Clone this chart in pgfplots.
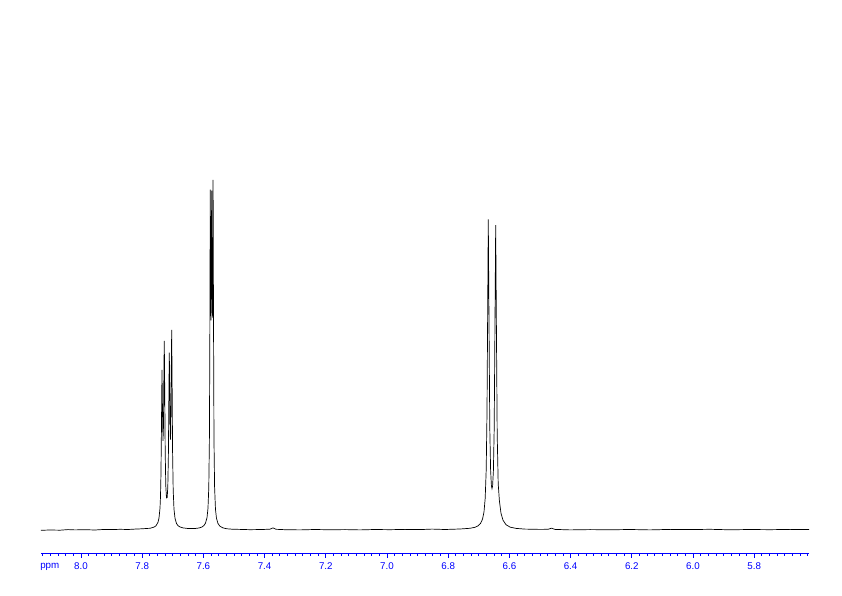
\documentclass[border=0pt]{standalone}
\usepackage{fontspec}
\setmainfont{Liberation Sans}
\usepackage{pgfplots}
\pgfplotsset{compat=1.18}
\begin{document}
\begin{tikzpicture}[x=1bp,y=1bp]
\path[use as bounding box] (0,0) rectangle (842,596);
\begin{axis}[
  at={(41bp,43bp)}, anchor=south west,
  scale only axis, width=768bp, height=553bp,
  xmin=5.6209, xmax=8.1307, ymin=-23.3, ymax=529.7,
  x dir=reverse,
  axis x line=bottom, axis y line=none,
  x axis line style={-, blue, line width=0.8pt},
  xtick={5.8,6.0,6.2,6.4,6.6,6.8,7.0,7.2,7.4,7.6,7.8,8.0},
  minor xtick={5.625,5.65,...,8.13},
  tick align=outside,
  major tick length=5bp, minor tick length=3bp,
  tick style={blue, line width=0.8pt},
  typeset ticklabels with strut,
  /pgf/number format/fixed, /pgf/number format/fixed zerofill,
  /pgf/number format/precision=1, /pgf/number format/assume math mode=true,
  xticklabel style={blue, font=\fontsize{9.8}{11}\selectfont},
  extra x ticks={8.102}, extra x tick labels={ppm},
  extra x tick style={major tick length=0pt, xticklabel style={yshift=-4bp}},
]
\addplot[black, line width=0.7pt, mark=none] coordinates {
(8.1307,-0.6)(8.1013,-0.3)(8.0686,-0.5)(8.0425,0.1)(8.0196,-0.2)(7.9869,0.0)(7.9542,-0.3)(7.9216,0.3)(7.8987,0.1)(7.8725,0.4)(7.8464,0.2)(7.8235,0.6)(7.8007,0.9)(7.7810,1.3)(7.7745,1.4)(7.7614,2.6)(7.7549,3.9)(7.7484,7.4)(7.7451,11.6)(7.7418,21.6)(7.7402,32.9)(7.7386,56.3)(7.7369,106.8)(7.7353,159.9)(7.7337,119.9)(7.7320,88.8)(7.7304,103.7)(7.7288,165.1)(7.7278,188.8)(7.7265,144.1)(7.7248,77.9)(7.7229,44.1)(7.7206,31.8)(7.7183,32.2)(7.7163,42.7)(7.7144,74.0)(7.7127,135.3)(7.7114,177.1)(7.7101,143.2)(7.7085,96.0)(7.7075,90.2)(7.7065,100.9)(7.7049,159.2)(7.7036,199.7)(7.7023,150.9)(7.7007,78.4)(7.6987,39.7)(7.6961,20.5)(7.6928,11.5)(7.6879,6.2)(7.6830,4.0)(7.6765,2.8)(7.6667,1.8)(7.6536,1.3)(7.6405,1.1)(7.6275,1.2)(7.6144,1.7)(7.6046,2.7)(7.5980,4.2)(7.5931,6.6)(7.5882,12.0)(7.5850,21.3)(7.5824,41.9)(7.5804,88.6)(7.5791,174.5)(7.5775,340.1)(7.5761,249.8)(7.5752,209.2)(7.5742,246.8)(7.5729,339.0)(7.5716,248.1)(7.5706,212.0)(7.5696,255.5)(7.5683,349.8)(7.5670,215.5)(7.5654,90.7)(7.5634,42.8)(7.5605,20.3)(7.5572,11.4)(7.5523,6.2)(7.5458,3.4)(7.5359,1.8)(7.5229,0.9)(7.5065,0.5)(7.4804,0.3)(7.4477,0.0)(7.4085,0.2)(7.3824,0.5)(7.3725,1.8)(7.3627,0.4)(7.3333,0.0)(7.2843,-0.2)(7.2353,0.2)(7.1863,-0.1)(7.1373,0.1)(7.0882,-0.2)(7.0392,0.2)(6.9902,0.0)(6.9412,0.3)(6.8922,0.1)(6.8529,0.6)(6.8105,0.2)(6.7614,0.7)(6.7288,1.4)(6.7124,2.4)(6.7026,3.8)(6.6944,6.2)(6.6879,10.5)(6.6830,17.8)(6.6791,31.4)(6.6758,59.7)(6.6732,117.3)(6.6712,209.2)(6.6690,310.4)(6.6667,211.2)(6.6641,102.2)(6.6614,59.6)(6.6588,44.1)(6.6569,41.1)(6.6549,43.8)(6.6523,58.8)(6.6497,100.5)(6.6471,207.3)(6.6448,304.5)(6.6425,205.3)(6.6399,95.8)(6.6366,46.0)(6.6327,29.0)(6.6275,16.5)(6.6209,9.5)(6.6111,5.0)(6.5980,2.6)(6.5784,1.3)(6.5490,0.6)(6.5000,0.3)(6.4739,0.4)(6.4624,1.5)(6.4510,0.3)(6.4020,-0.2)(6.3366,0.1)(6.2712,-0.1)(6.2059,0.2)(6.1405,-0.2)(6.0752,0.3)(6.0098,0.1)(5.9444,0.4)(5.8791,-0.1)(5.8137,0.2)(5.7484,0.0)(5.6830,0.3)(5.6209,0.1)
};
\end{axis}
\end{tikzpicture}
\end{document}
